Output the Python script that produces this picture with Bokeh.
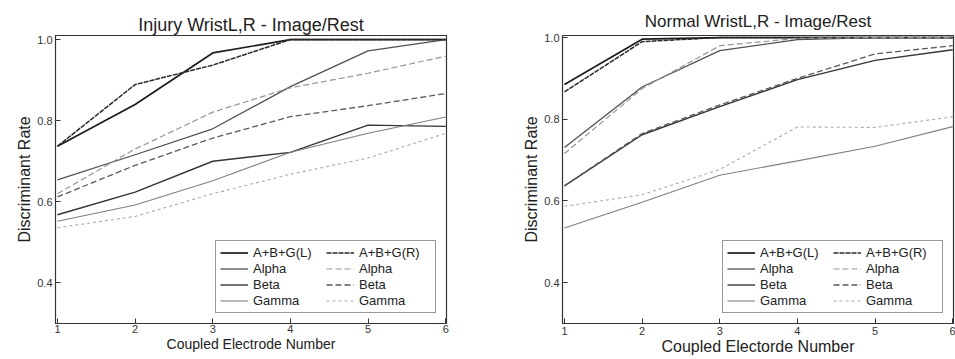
from bokeh.plotting import figure
from bokeh.layouts import row
from bokeh.models import Legend, LegendItem, FixedTicker, PrintfTickFormatter
from bokeh.embed import file_html
from bokeh.resources import INLINE

electrodes = [1, 2, 3, 4, 5, 6]
series_names = ["A+B+G(L)", "Alpha", "Beta", "Gamma", "A+B+G(R)", "Alpha", "Beta", "Gamma"]

# Injury wrist (left panel)
inj_abg_l = [0.737, 0.840, 0.967, 1.000, 1.000, 1.000]
inj_alpha_l = [0.654, 0.716, 0.780, 0.884, 0.972, 1.000]
inj_beta_l = [0.568, 0.624, 0.700, 0.722, 0.789, 0.786]
inj_gamma_l = [0.552, 0.592, 0.652, 0.722, 0.769, 0.809]
inj_abg_r = [0.737, 0.889, 0.937, 1.000, 1.000, 1.000]
inj_alpha_r = [0.620, 0.730, 0.821, 0.881, 0.917, 0.959]
inj_beta_r = [0.612, 0.690, 0.757, 0.810, 0.837, 0.867]
inj_gamma_r = [0.536, 0.564, 0.620, 0.668, 0.708, 0.769]

# Normal wrist (right panel)
nor_abg_l = [0.885, 0.996, 1.000, 1.000, 1.000, 1.000]
nor_alpha_l = [0.731, 0.879, 0.968, 0.995, 1.000, 1.000]
nor_beta_l = [0.637, 0.762, 0.831, 0.897, 0.944, 0.970]
nor_gamma_l = [0.534, 0.597, 0.663, 0.698, 0.734, 0.782]
nor_abg_r = [0.867, 0.990, 1.000, 1.000, 1.000, 1.000]
nor_alpha_r = [0.716, 0.875, 0.980, 0.998, 1.000, 1.000]
nor_beta_r = [0.637, 0.765, 0.835, 0.900, 0.960, 0.980]
nor_gamma_r = [0.587, 0.615, 0.677, 0.781, 0.780, 0.806]

y_ticks = [0.4, 0.6, 0.8, 1.0]

styles = [
    dict(line_color="#1c1c1c", line_width=1.7, line_dash="solid"),
    dict(line_color="#505050", line_width=1.3, line_dash="solid"),
    dict(line_color="#343434", line_width=1.4, line_dash="solid"),
    dict(line_color="#808080", line_width=1.1, line_dash="solid"),
    dict(line_color="#2a2a2a", line_width=1.5, line_dash="5 1"),
    dict(line_color="#959595", line_width=1.2, line_dash="6 3"),
    dict(line_color="#5a5a5a", line_width=1.3, line_dash="6 3"),
    dict(line_color="#aaaaaa", line_width=1.1, line_dash="3 3"),
]

FONT = "Liberation Sans"


def make_panel(title, xlabel, series, width, height, bl, br, bt, bb, yr,
               title_size, title_standoff, xlabel_size, xtick_standoff):
    p = figure(width=width, height=height, output_backend="svg", toolbar_location=None,
               x_range=(0.975, 6.01), y_range=yr, title=title,
               min_border_left=bl, min_border_right=br, min_border_top=bt, min_border_bottom=bb)
    p.title.align = "center"
    p.title.text_font = FONT
    p.title.text_font_size = title_size
    p.title.text_font_style = "normal"
    p.title.text_color = "#222222"
    p.title.standoff = title_standoff
    p.grid.visible = False
    p.outline_line_color = "#333333"
    p.outline_line_width = 1.2
    p.background_fill_color = "white"
    p.border_fill_color = "white"
    p.xaxis.ticker = FixedTicker(ticks=electrodes)
    p.yaxis.ticker = FixedTicker(ticks=y_ticks)
    p.yaxis.formatter = PrintfTickFormatter(format="%.1f")
    p.xaxis.axis_label = xlabel
    p.yaxis.axis_label = "Discriminant Rate"
    for ax in (p.xaxis[0], p.yaxis[0]):
        ax.major_tick_in = 5
        ax.major_tick_out = 0
        ax.minor_tick_in = 0
        ax.minor_tick_out = 0
        ax.axis_line_color = "#333333"
        ax.major_tick_line_color = "#333333"
        ax.major_label_text_font = FONT
        ax.major_label_text_font_size = "11px"
        ax.major_label_text_color = "#333333"
        ax.axis_label_text_font = FONT
        ax.axis_label_text_font_size = "16px"
        ax.axis_label_text_font_style = "normal"
        ax.axis_label_text_color = "#222222"
        ax.axis_label_standoff = 1
        ax.major_label_standoff = 3
    p.xaxis.axis_label_text_font_size = xlabel_size
    p.xaxis.axis_label_standoff = 0
    p.xaxis.major_label_standoff = xtick_standoff
    items = []
    for name, ys, st in zip(series_names, series, styles):
        r = p.line(electrodes, ys, **st)
        items.append(LegendItem(label=name, renderers=[r]))
    leg = Legend(items=items, location="bottom_right", ncols=2,
                 label_text_font=FONT, label_text_font_size="13px",
                 label_text_color="#222222",
                 glyph_width=28, glyph_height=15, label_height=15, label_width=72,
                 label_standoff=5, spacing=1, padding=4, margin=10,
                 border_line_color="#333333", border_line_width=1,
                 background_fill_alpha=1.0)
    p.add_layout(leg, "center")
    return p


p1 = make_panel("Injury WristL,R - Image/Rest", "Coupled Electrode Number",
                [inj_abg_l, inj_alpha_l, inj_beta_l, inj_gamma_l,
                 inj_abg_r, inj_alpha_r, inj_beta_r, inj_gamma_r],
                500, 359, 55, 54, 35, 31, (0.30, 1.01), "18px", 2, "14px", 1)
p2 = make_panel("Normal WristL,R - Image/Rest", "Coupled Electorde Number",
                [nor_abg_l, nor_alpha_l, nor_beta_l, nor_gamma_l,
                 nor_abg_r, nor_alpha_r, nor_beta_r, nor_gamma_r],
                455, 359, 62, 2, 32, 36, (0.30, 1.005), "17px", 9, "16px", 3)

layout = row(p1, p2)
open("out.html", "w").write(file_html(layout, INLINE))
